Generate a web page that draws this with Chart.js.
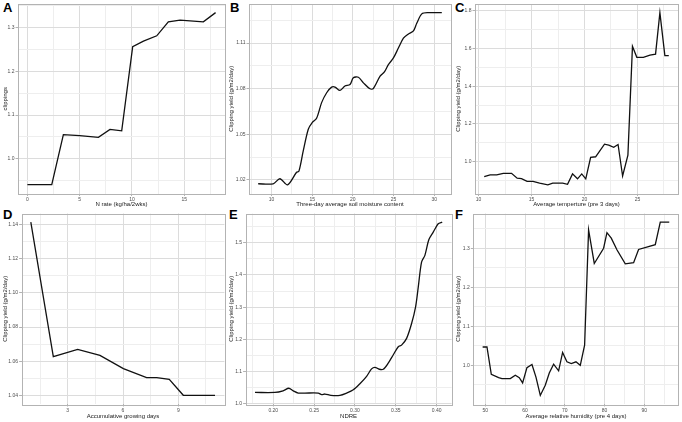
<!DOCTYPE html>
<html><head><meta charset="utf-8">
<script src="https://cdn.jsdelivr.net/npm/chart.js@4/dist/chart.umd.min.js"></script>
<style>
html,body{margin:0;padding:0;background:#fff;width:682px;height:422px;overflow:hidden;position:relative;font-family:'Liberation Sans',Arial,sans-serif}
canvas{position:absolute}
.lab{position:absolute;font-weight:bold;font-size:13px;line-height:13px;color:#000}
</style></head><body>
<div class="lab" style="left:3px;top:1px">A</div>
<div class="lab" style="left:230px;top:1px">B</div>
<div class="lab" style="left:455px;top:1px">C</div>
<div class="lab" style="left:3px;top:208px">D</div>
<div class="lab" style="left:229px;top:208px">E</div>
<div class="lab" style="left:455px;top:208px">F</div>
<script>
// ---- Data ----
const nRate = [0, 2.33, 3.44, 5, 6.79, 7.9, 9.02, 10.07, 11.1, 12.37, 13.48, 14.6, 16.83, 18.0];
const clippingsA = [0.941, 0.941, 1.055, 1.053, 1.049, 1.067, 1.064, 1.256, 1.269, 1.281, 1.313, 1.317, 1.313, 1.334];

const soilMoisture = [8.36, 10.2, 11.03, 11.97, 13.08, 13.37, 13.9, 14.52, 15.0, 15.54, 16.16, 16.78, 17.39, 17.8, 18.42, 19.03, 19.65, 20.06, 20.68, 21.3, 22.11, 22.52, 23.35, 23.88, 24.37, 24.99, 25.6, 26.22, 26.84, 27.45, 27.86, 28.48, 29.3, 30.94];
const yieldB = [1.0174, 1.0174, 1.0207, 1.0167, 1.025, 1.0257, 1.039, 1.0533, 1.0577, 1.0605, 1.0708, 1.0773, 1.081, 1.081, 1.0788, 1.0817, 1.0827, 1.0871, 1.0875, 1.0838, 1.0799, 1.0801, 1.0882, 1.091, 1.0958, 1.1002, 1.1067, 1.1132, 1.116, 1.118, 1.123, 1.1292, 1.13, 1.13];

const temperature = [10.53, 11.09, 11.71, 12.33, 13.11, 13.64, 14.05, 14.58, 15.14, 15.76, 16.54, 17.0, 17.94, 18.4, 18.87, 19.34, 19.74, 20.12, 20.58, 21.05, 21.89, 22.29, 22.76, 23.17, 23.6, 24.1, 24.53, 24.94, 25.56, 26.18, 26.71, 27.12, 27.59, 27.96];
const yieldC = [0.921, 0.93, 0.93, 0.938, 0.938, 0.912, 0.91, 0.895, 0.895, 0.886, 0.877, 0.886, 0.886, 0.88, 0.935, 0.909, 0.935, 0.909, 1.023, 1.026, 1.093, 1.088, 1.076, 1.091, 0.924, 1.035, 1.612, 1.554, 1.554, 1.566, 1.571, 1.791, 1.563, 1.563];

const growingDays = [1, 2.22, 3.54, 4.75, 6.02, 7.28, 7.83, 8.51, 9.27, 10.99];
const yieldD = [1.1414, 1.0626, 1.0669, 1.0634, 1.0556, 1.0503, 1.0503, 1.0494, 1.04, 1.04];

const ndre = [0.1776, 0.202, 0.212, 0.219, 0.2245, 0.2306, 0.2388, 0.2551, 0.2592, 0.2633, 0.2706, 0.2816, 0.2898, 0.298, 0.3061, 0.3143, 0.3204, 0.3245, 0.3298, 0.3347, 0.3408, 0.347, 0.3531, 0.3571, 0.3633, 0.3694, 0.3743, 0.3776, 0.3816, 0.3857, 0.3906, 0.3959, 0.402, 0.4069];
const yieldE = [1.035, 1.035, 1.040, 1.048, 1.040, 1.033, 1.033, 1.033, 1.028, 1.030, 1.026, 1.026, 1.033, 1.043, 1.062, 1.085, 1.108, 1.113, 1.107, 1.107, 1.126, 1.152, 1.177, 1.182, 1.203, 1.249, 1.301, 1.363, 1.440, 1.461, 1.510, 1.533, 1.559, 1.564];

const humidity = [49.33, 50.42, 51.51, 53.35, 54.19, 56.29, 57.55, 58.55, 59.39, 60.48, 61.74, 62.75, 63.84, 65.09, 66.1, 67.19, 68.45, 69.45, 70.54, 71.64, 72.81, 73.9, 74.99, 75.99, 77.42, 79.77, 80.61, 81.7, 83.12, 85.22, 87.32, 88.57, 92.77, 94.03, 96.29];
const yieldF = [1.047, 1.047, 0.977, 0.9685, 0.966, 0.966, 0.9745, 0.9685, 0.955, 0.994, 1.002, 0.970, 0.923, 0.949, 0.9805, 1.003, 0.986, 1.033, 1.009, 1.0045, 1.009, 1.000, 1.0516, 1.347, 1.261, 1.300, 1.340, 1.326, 1.296, 1.260, 1.263, 1.297, 1.309, 1.367, 1.367];

// tick labels (major) and minor grid positions
const ticksA_x = [0, 5, 10, 15], minorA_x = [2.5, 7.5, 12.5, 17.5];
const ticksA_y = [1.0, 1.1, 1.2, 1.3], minorA_y = [0.95, 1.05, 1.15, 1.25, 1.35];
const ticksB_x = [10, 15, 20, 25, 30], minorB_x = [7.5, 12.5, 17.5, 22.5, 27.5];
const ticksB_y = [1.02, 1.05, 1.08, 1.11], minorB_y = [1.035, 1.065, 1.095, 1.125];
const ticksC_x = [10, 15, 20, 25], minorC_x = [12.5, 17.5, 22.5, 27.5];
const ticksC_y = [1.0, 1.2, 1.4, 1.6, 1.8], minorC_y = [0.9, 1.1, 1.3, 1.5, 1.7];
const ticksD_x = [3, 6, 9], minorD_x = [1.5, 4.5, 7.5, 10.5];
const ticksD_y = [1.04, 1.06, 1.08, 1.10, 1.12, 1.14], minorD_y = [1.05, 1.07, 1.09, 1.11, 1.13];
const ticksE_x = [0.20, 0.25, 0.30, 0.35, 0.40], minorE_x = [0.175, 0.225, 0.275, 0.325, 0.375];
const ticksE_y = [1.0, 1.1, 1.2, 1.3, 1.4, 1.5], minorE_y = [1.05, 1.15, 1.25, 1.35, 1.45, 1.55];
const ticksF_x = [50, 60, 70, 80, 90], minorF_x = [55, 65, 75, 85, 95];
const ticksF_y = [0.9, 1.0, 1.1, 1.2, 1.3], minorF_y = [0.95, 1.05, 1.15, 1.25, 1.35];

Chart.defaults.font.family = "'Liberation Sans', Arial, sans-serif";

const borderPlugin = {
  id: 'panelBorder',
  afterDraw(chart) {
    const a = chart.chartArea, c = chart.ctx;
    c.save(); c.strokeStyle = '#b3b3b3'; c.lineWidth = 1;
    c.strokeRect(Math.round(a.left) + 0.5, Math.round(a.top) + 0.5, Math.round(a.right - a.left), Math.round(a.bottom - a.top));
    c.restore();
  }
};

function axisCfg(isX, maj, minr, dec, min, max, size, title) {
  const key = v => v.toFixed(5);
  const majSet = new Set(maj.map(key));
  const isMaj = v => majSet.has(key(v));
  const all = maj.concat(minr).filter(v => v >= min && v <= max).sort((a, b) => a - b);
  return {
    type: 'linear', min, max,
    afterBuildTicks: s => { s.ticks = all.map(v => ({ value: v })); },
    afterFit: s => { if (isX) s.height = size; else s.width = size; },
    grid: {
      color: ctx => (ctx.tick && isMaj(ctx.tick.value)) ? '#dcdcdc' : '#eeeeee',
      tickColor: ctx => (ctx.tick && isMaj(ctx.tick.value)) ? '#b3b3b3' : 'rgba(0,0,0,0)',
      tickLength: 2.5, lineWidth: 1, drawTicks: true
    },
    border: { display: false },
    ticks: {
      autoSkip: false, maxRotation: 0, minRotation: 0, padding: 1,
      font: { size: 5 }, color: '#4d4d4d',
      callback: v => isMaj(v) ? v.toFixed(dec) : ''
    },
    title: { display: true, text: title, font: { size: 6 }, color: '#1a1a1a', padding: 0 }
  };
}

function makePanel(c) {
  const cv = document.createElement('canvas');
  cv.width = c.cw; cv.height = c.ch;
  cv.style.left = c.cx + 'px'; cv.style.top = c.cy + 'px';
  document.body.appendChild(cv);
  new Chart(cv, {
    type: 'scatter',
    data: { datasets: [{
      data: c.xs.map((x, i) => ({ x, y: c.ys[i] })),
      showLine: true, borderColor: '#111', borderWidth: 1.3, pointRadius: 0,
      tension: c.tension || 0, fill: false
    }] },
    options: {
      responsive: false, animation: false, events: [],
      layout: { padding: { left: 0, bottom: 0, top: c.area.t - c.cy, right: c.cx + c.cw - c.area.r } },
      plugins: { legend: { display: false }, tooltip: { enabled: false } },
      scales: {
        x: axisCfg(true, c.xMaj, c.xMinor, c.xDec, c.xMin, c.xMax, c.cy + c.ch - c.area.b, c.xTitle),
        y: axisCfg(false, c.yMaj, c.yMinor, c.yDec, c.yMin, c.yMax, c.area.l - c.cx, c.yTitle)
      }
    },
    plugins: [borderPlugin]
  });
}

const yTitle = 'Clipping yield (g/m2/day)';
makePanel({ cx: 2, cy: 0, cw: 226, ch: 208, area: { l: 18, t: 3, r: 225, b: 193.5 },
  xs: nRate, ys: clippingsA, xMin: -0.9, xMax: 18.9, yMin: 0.9207, yMax: 1.3537,
  xMaj: ticksA_x, xMinor: minorA_x, yMaj: ticksA_y, yMinor: minorA_y, xDec: 0, yDec: 1,
  xTitle: 'N rate (kg/ha/2wks)', yTitle: 'clippings' });
makePanel({ cx: 228, cy: 0, cw: 226, ch: 208, area: { l: 249, t: 3, r: 451, b: 193.5 },
  xs: soilMoisture, ys: yieldB, xMin: 7.23, xMax: 32.07, yMin: 1.011, yMax: 1.1357, tension: 0.3,
  xMaj: ticksB_x, xMinor: minorB_x, yMaj: ticksB_y, yMinor: minorB_y, xDec: 0, yDec: 2,
  xTitle: 'Three-day average soil moisture content', yTitle });
makePanel({ cx: 455, cy: 0, cw: 227, ch: 208, area: { l: 475, t: 3, r: 678, b: 193.5 },
  xs: temperature, ys: yieldC, xMin: 9.66, xMax: 28.83, yMin: 0.831, yMax: 1.837,
  xMaj: ticksC_x, xMinor: minorC_x, yMaj: ticksC_y, yMinor: minorC_y, xDec: 0, yDec: 1,
  xTitle: 'Average temperture (pre 3 days)', yTitle });
makePanel({ cx: 2, cy: 209, cw: 226, ch: 211, area: { l: 21.6, t: 213.5, r: 224.4, b: 404 },
  xs: growingDays, ys: yieldD, xMin: 0.5, xMax: 11.5, yMin: 1.0349, yMax: 1.1465,
  xMaj: ticksD_x, xMinor: minorD_x, yMaj: ticksD_y, yMinor: minorD_y, xDec: 0, yDec: 2,
  xTitle: 'Accumulative growing days', yTitle });
makePanel({ cx: 228, cy: 209, cw: 226, ch: 211, area: { l: 245.6, t: 213.5, r: 451.6, b: 404 },
  xs: ndre, ys: yieldE, xMin: 0.1661, xMax: 0.4184, yMin: 0.999, yMax: 1.591, tension: 0.3,
  xMaj: ticksE_x, xMinor: minorE_x, yMaj: ticksE_y, yMinor: minorE_y, xDec: 2, yDec: 1,
  xTitle: 'NDRE', yTitle });
makePanel({ cx: 455, cy: 209, cw: 227, ch: 211, area: { l: 473.3, t: 213.5, r: 678.6, b: 404 },
  xs: humidity, ys: yieldF, xMin: 46.98, xMax: 98.64, yMin: 0.901, yMax: 1.389,
  xMaj: ticksF_x, xMinor: minorF_x, yMaj: ticksF_y, yMinor: minorF_y, xDec: 0, yDec: 1,
  xTitle: 'Average relative humidity (pre 4 days)', yTitle });
</script>
</body></html>
